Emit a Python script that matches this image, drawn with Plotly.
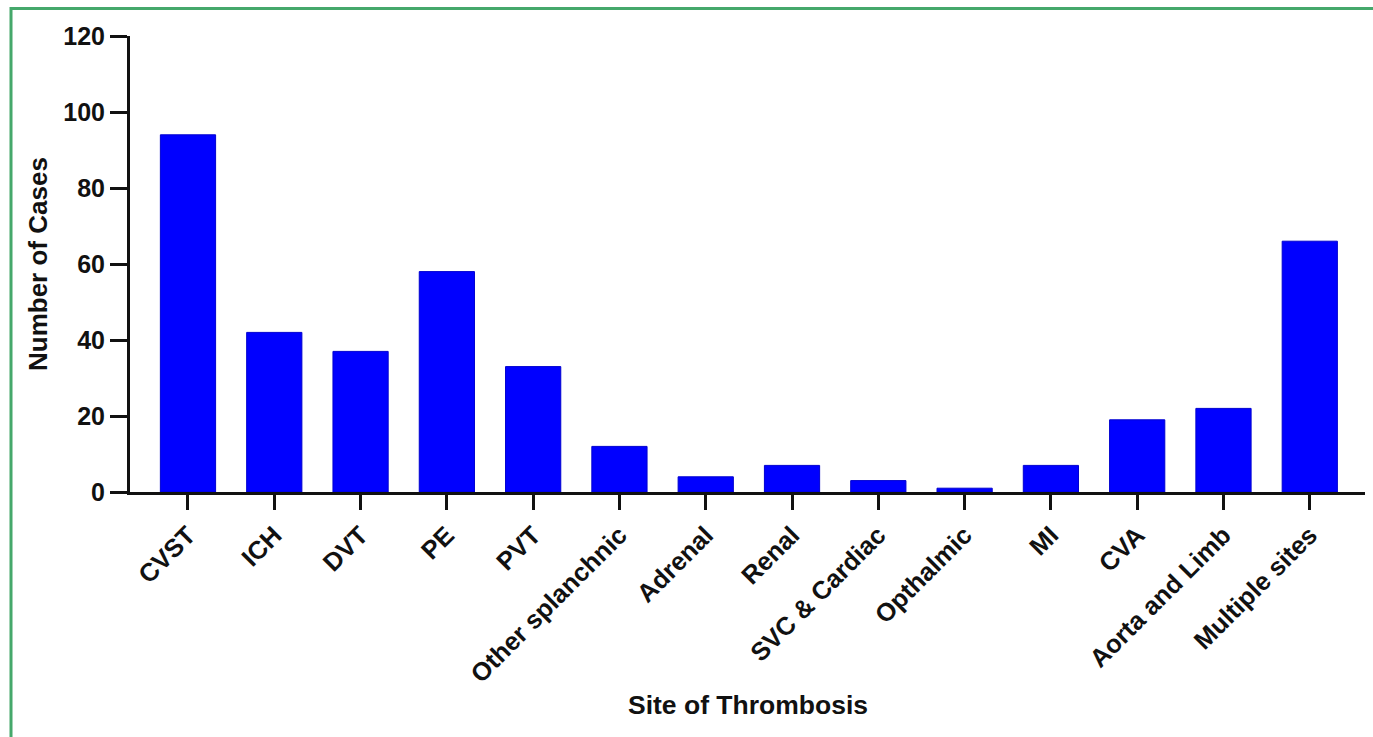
import plotly.graph_objects as go

categories = ["CVST", "ICH", "DVT", "PE", "PVT", "Other splanchnic", "Adrenal",
              "Renal", "SVC & Cardiac", "Opthalmic", "MI", "CVA",
              "Aorta and Limb", "Multiple sites"]
cases = [94, 42, 37, 58, 33, 12, 4, 7, 3, 1, 7, 19, 22, 66]
y_ticks = [0, 20, 40, 60, 80, 100, 120]

W, H = 1373, 737
ML, MR, MT, MB = 130, 8, 36, 245
FONT = "Liberation Sans, Arial, sans-serif"

fig = go.Figure()
fig.add_trace(go.Bar(
    x=list(range(len(categories))), y=cases, width=0.64,
    marker=dict(color="#0000ff", line=dict(color="#0000d0", width=1)),
    hoverinfo="x+y",
))

pw = W - ML - MR
ph = H - MT - MB
bx = (11 - ML) / pw          # left border, paper coords
by = 1 + (MT - 8.5) / ph     # top border, paper coords
bxr = (W + 20 - ML) / pw     # past the right edge of the page
byb = -(MB + 20) / ph        # past the bottom edge of the page

fig.update_layout(
    width=W, height=H,
    margin=dict(l=ML, r=MR, t=MT, b=MB),
    paper_bgcolor="white", plot_bgcolor="white",
    showlegend=False,
    font=dict(family=FONT, color="#111", size=24),
    xaxis=dict(
        range=[-0.672, 13.64],
        tickmode="array", tickvals=list(range(len(categories))),
        ticktext=[f"<b>{c}</b>" for c in categories],
        tickangle=-45, ticks="outside", ticklen=15, tickwidth=3,
        tickcolor="#111", showline=True, linecolor="#111", linewidth=3,
        showgrid=False, zeroline=False,
        tickfont=dict(family=FONT, size=25.5, color="#111"),
    ),
    yaxis=dict(
        range=[0, 120],
        tickmode="array", tickvals=y_ticks,
        ticktext=[f"<b>{v}</b>" for v in y_ticks],
        ticks="outside", ticklen=17, tickwidth=3, tickcolor="#111",
        showline=True, linecolor="#111", linewidth=3,
        showgrid=False, zeroline=False,
        tickfont=dict(family=FONT, size=25, color="#111"),
    ),
    annotations=[
        dict(text="<b>Number of Cases</b>", xref="paper", yref="paper",
             x=0, y=0.5, xanchor="center", yanchor="middle",
             xshift=38 - ML, textangle=-90, showarrow=False,
             font=dict(family=FONT, size=26, color="#111")),
        dict(text="<b>Site of Thrombosis</b>", xref="paper", yref="paper",
             x=0.5, y=0, xanchor="center", yanchor="middle",
             yshift=-(705 - (H - MB)), showarrow=False,
             font=dict(family=FONT, size=26.5, color="#111")),
    ],
    shapes=[
        dict(type="path", xref="paper", yref="paper",
             path=f"M {bx},{byb} L {bx},{by} L {bxr},{by}",
             line=dict(color="#45a86b", width=3), layer="below"),
    ],
)

fig.write_html(
    "out.html",
    config={"displayModeBar": False},
    post_script="document.body.style.margin='0';document.body.style.padding='0';",
)
